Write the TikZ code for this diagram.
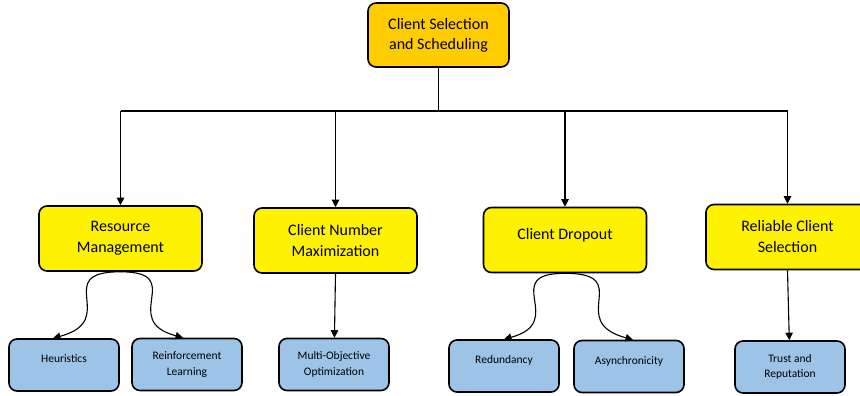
\documentclass[tikz,border=0pt]{standalone}
\usepackage{fontspec}
\setmainfont{Carlito}
\usetikzlibrary{arrows.meta,positioning}

\begin{document}
\begin{tikzpicture}[x=1pt, y=1pt,
        box/.style = {draw, line width=1.6pt, rounded corners=8pt, align=center, inner sep=0pt},
        root/.style = {box, fill=rootorange, minimum width=141pt, minimum height=64pt,
                       font=\fontsize{16}{20}\selectfont},
        topic/.style = {box, fill=yellow, minimum width=163pt, minimum height=65pt,
                        font=\fontsize{16}{21}\selectfont},
        leaf/.style = {box, fill=leafblue, minimum width=110pt, minimum height=52pt,
                       font=\fontsize{11.5}{15.5}\selectfont}]
                \definecolor{rootorange}{HTML}{FFCC00}
                \definecolor{leafblue}{HTML}{9DC3E6}
                \useasboundingbox (0,0) rectangle (860,-396);

                \node (css) [root] at (438.5,-35) {Client Selection\\and Scheduling};

                \node (rm) [topic] at (120.5,-238.5) {Resource\\Management};
                \node (cnm) [topic] at (335.5,-240.5) {Client Number\\Maximization};
                \node (cd) [topic, text depth=12pt] at (565,-240) {Client Dropout};
                \node (rcs) [topic] at (787.5,-237) {Reliable Client\\Selection};

                \node (heur) [leaf, text depth=12pt] at (64,-365) {Heuristics};
                \node (rl) [leaf] at (187,-364.5) {Reinforcement\\Learning};
                \node (moo) [leaf] at (334,-364.5) {Multi-Objective\\Optimization};
                \node (red) [leaf, text depth=12pt] at (504,-366) {Redundancy};
                \node (async) [leaf, text depth=12pt] at (629,-366.5) {Asynchronicity};
                \node (trust) [leaf] at (790,-367) {Trust and\\Reputation};

                \coordinate (bus) at (438.5,-111);

                \draw [line width=1.3pt] (css) -- (bus);
                \draw [line width=1.3pt] (rm.north |- bus) -- (rcs.north |- bus);

                \path [-{Triangle[length=7.5pt,width=7.5pt]}, line width=1.1pt]
                    (rm.north |- bus) edge (rm)
                    (cnm.north |- bus) edge (cnm)
                    (cd.north |- bus) edge (cd)
                    (rcs.north |- bus) edge (rcs)
                    (rm.south) edge [out=180, in=15, looseness=1.9] ([xshift=-11pt]heur.north)
                    (rm.south) edge [out=0, in=165, looseness=1.9] ([xshift=-4pt]rl.north)
                    (cnm.south) edge (moo)
                    (cd.south) edge [out=180, in=15, looseness=1.9] (red.north)
                    (cd.south) edge [out=0, in=165, looseness=1.9] ([xshift=4pt]async.north)
                    (rcs.south) edge (trust);
            \end{tikzpicture}
\end{document}
